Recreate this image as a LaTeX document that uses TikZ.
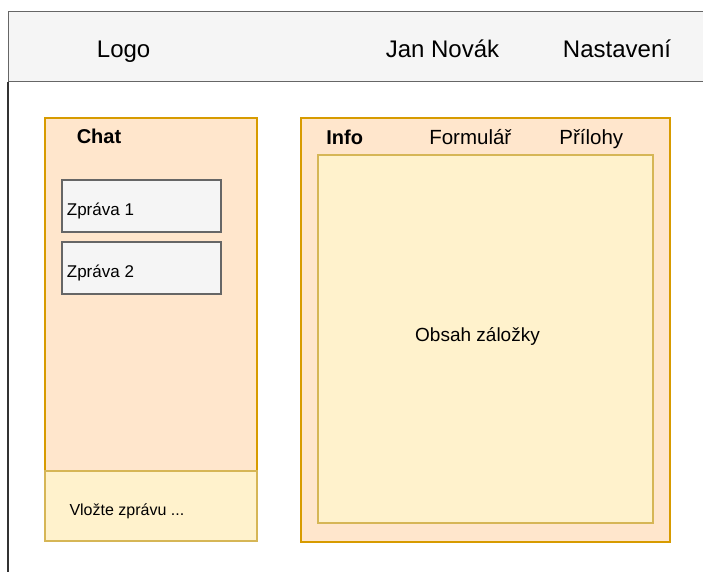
\documentclass[tikz,border=0pt]{standalone}
\usepackage{fontspec}
\setmainfont{Liberation Sans}
\definecolor{hdrfill}{HTML}{F5F5F5}
\definecolor{hdrline}{HTML}{666666}
\definecolor{orfill}{HTML}{FFE6CC}
\definecolor{orline}{HTML}{D79B00}
\definecolor{yefill}{HTML}{FFF2CC}
\definecolor{yeline}{HTML}{D6B656}
\tikzset{
  box/.style={rectangle, inner sep=0pt, outer sep=0pt, anchor=north west},
  hdr/.style={box, fill=hdrfill, draw=hdrline, line width=1pt},
  panel/.style={box, fill=orfill, draw=orline, line width=1.3pt},
  inner/.style={box, fill=yefill, draw=yeline, line width=1.3pt},
  msg/.style={box, fill=hdrfill, draw=hdrline, line width=1.2pt},
  lbl/.style={inner sep=0pt, text=black, anchor=base},
  lbll/.style={inner sep=0pt, text=black, anchor=base west},
}
\begin{document}
\begin{tikzpicture}[x=1pt,y=-1pt]
\clip (0,0) rectangle (703,572);
\fill[white] (0,0) rectangle (703,572);
% header
\node[hdr, minimum width=720pt, minimum height=70pt] (header) at (8,12) {};
\coordinate (lefttop) at (8,82);
\coordinate (leftbot) at (8,580);
\draw[black!80, line width=1.2pt] (lefttop) -- (leftbot);
\node[lbl, font=\fontsize{24}{28}\selectfont] (logo) at (123.6,57.5) {Logo};
\node[lbl, font=\fontsize{24}{28}\selectfont] (user) at (442.5,57.5) {Jan Novák};
\node[lbl, font=\fontsize{24}{28}\selectfont] (settings) at (617,57.5) {Nastavení};
% chat panel
\node[panel, minimum width=212pt, minimum height=353pt] (chat) at (45,118) {};
\node[inner, minimum width=212pt, minimum height=70pt] (input) at (45,471) {};
\node[lbl, font=\fontsize{20}{24}\selectfont\bfseries] (chattitle) at (99,144) {Chat};
\node[msg, minimum width=159pt, minimum height=52pt] (m1) at (62,180) {};
\node[msg, minimum width=159pt, minimum height=52pt] (m2) at (62,242) {};
\node[lbll, font=\fontsize{17}{20}\selectfont] (m1t) at (66.7,215) {Zpráva 1};
\node[lbll, font=\fontsize{17}{20}\selectfont] (m2t) at (66.7,277) {Zpráva 2};
\node[lbll, font=\fontsize{16}{19}\selectfont] (inputt) at (69.3,515) {Vložte zprávu ...};
% info panel
\node[panel, minimum width=369pt, minimum height=424pt] (info) at (301,118) {};
\node[inner, minimum width=335pt, minimum height=368pt] (content) at (318,155) {};
\node[lbl, font=\fontsize{20}{24}\selectfont\bfseries] (tab1) at (344.7,145) {Info};
\node[lbl, font=\fontsize{20.5}{24}\selectfont] (tab2) at (470.3,145) {Formulář};
\node[lbl, font=\fontsize{20.5}{24}\selectfont] (tab3) at (591.3,145) {Přílohy};
\node[lbl, font=\fontsize{19}{22}\selectfont] (contentt) at (477.5,341.5) {Obsah záložky};
\end{tikzpicture}
\end{document}
